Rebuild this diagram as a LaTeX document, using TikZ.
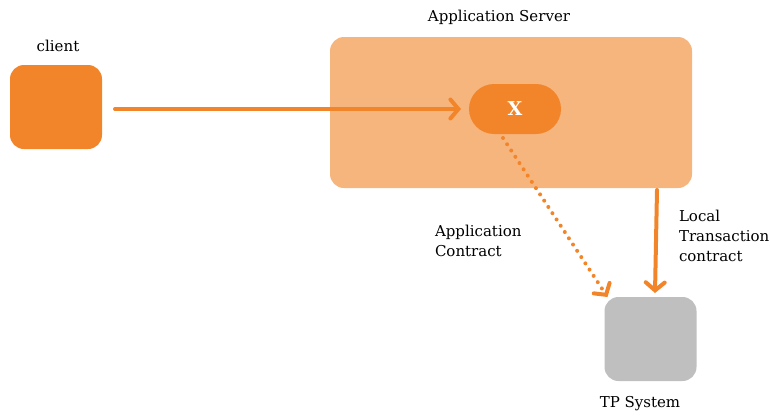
\documentclass[tikz,border=0pt]{standalone}
\usepackage{fontspec}
\setmainfont{DejaVu Serif}
\usetikzlibrary{arrows.meta,positioning}
\definecolor{orangeA}{HTML}{F28529}
\definecolor{serverC}{HTML}{F7B57E}
\definecolor{tpC}{HTML}{BFBFBF}
\begin{document}
\begin{tikzpicture}[x=1pt, y=-1pt, line width=4pt,
  box/.style={rounded corners=14pt,minimum width=92pt,minimum height=84pt,inner sep=0pt},
  flow/.style={draw=orangeA,line cap=round,-{Straight Barb[length=8pt,width=19pt,line cap=round]}},
  lbl/.style={font=\fontsize{15}{20}\selectfont,align=left,inner sep=0pt}]
\useasboundingbox (0,0) rectangle (770,415);
\begin{scope}
\node[box,fill=orangeA] (client) at (56,107) {};
\node[box,fill=serverC,minimum width=362pt,minimum height=151pt] (server) at (511,112.5) {};
\node[box,fill=orangeA,rounded corners=25pt,minimum height=50pt,text=white,font=\fontsize{19}{21}\selectfont\bfseries] (x) at (515,109) {X};
\node[box,fill=tpC] (tp) at (650.5,339) {};
\end{scope}
% labels
\node[lbl] (clientlbl) at (58,46) {client};
\node[lbl] (serverlbl) at (499,17) {Application Server};
\node[lbl] (tplbl) at (640,404) {TP System};
\node[lbl,anchor=west] (applbl) at (433,241) {Application\\Contract};
\node[lbl,anchor=west] (locallbl) at (677,236) {Local\\Transaction\\contract};
% connectors
\begin{scope}
\draw[flow] ([xshift=11pt,yshift=-2pt]client.east) -- ([xshift=-6pt]x.west);
\draw[flow,dash pattern=on 0pt off 7.5pt] ([xshift=-12pt,yshift=-2pt]x.south) -- ([xshift=5pt,yshift=-2pt]tp.north west);
\draw[flow] ([xshift=-37pt]server.south east) -- ([xshift=4.5pt,yshift=2pt]tp.north);
\end{scope}
\end{tikzpicture}
\end{document}
